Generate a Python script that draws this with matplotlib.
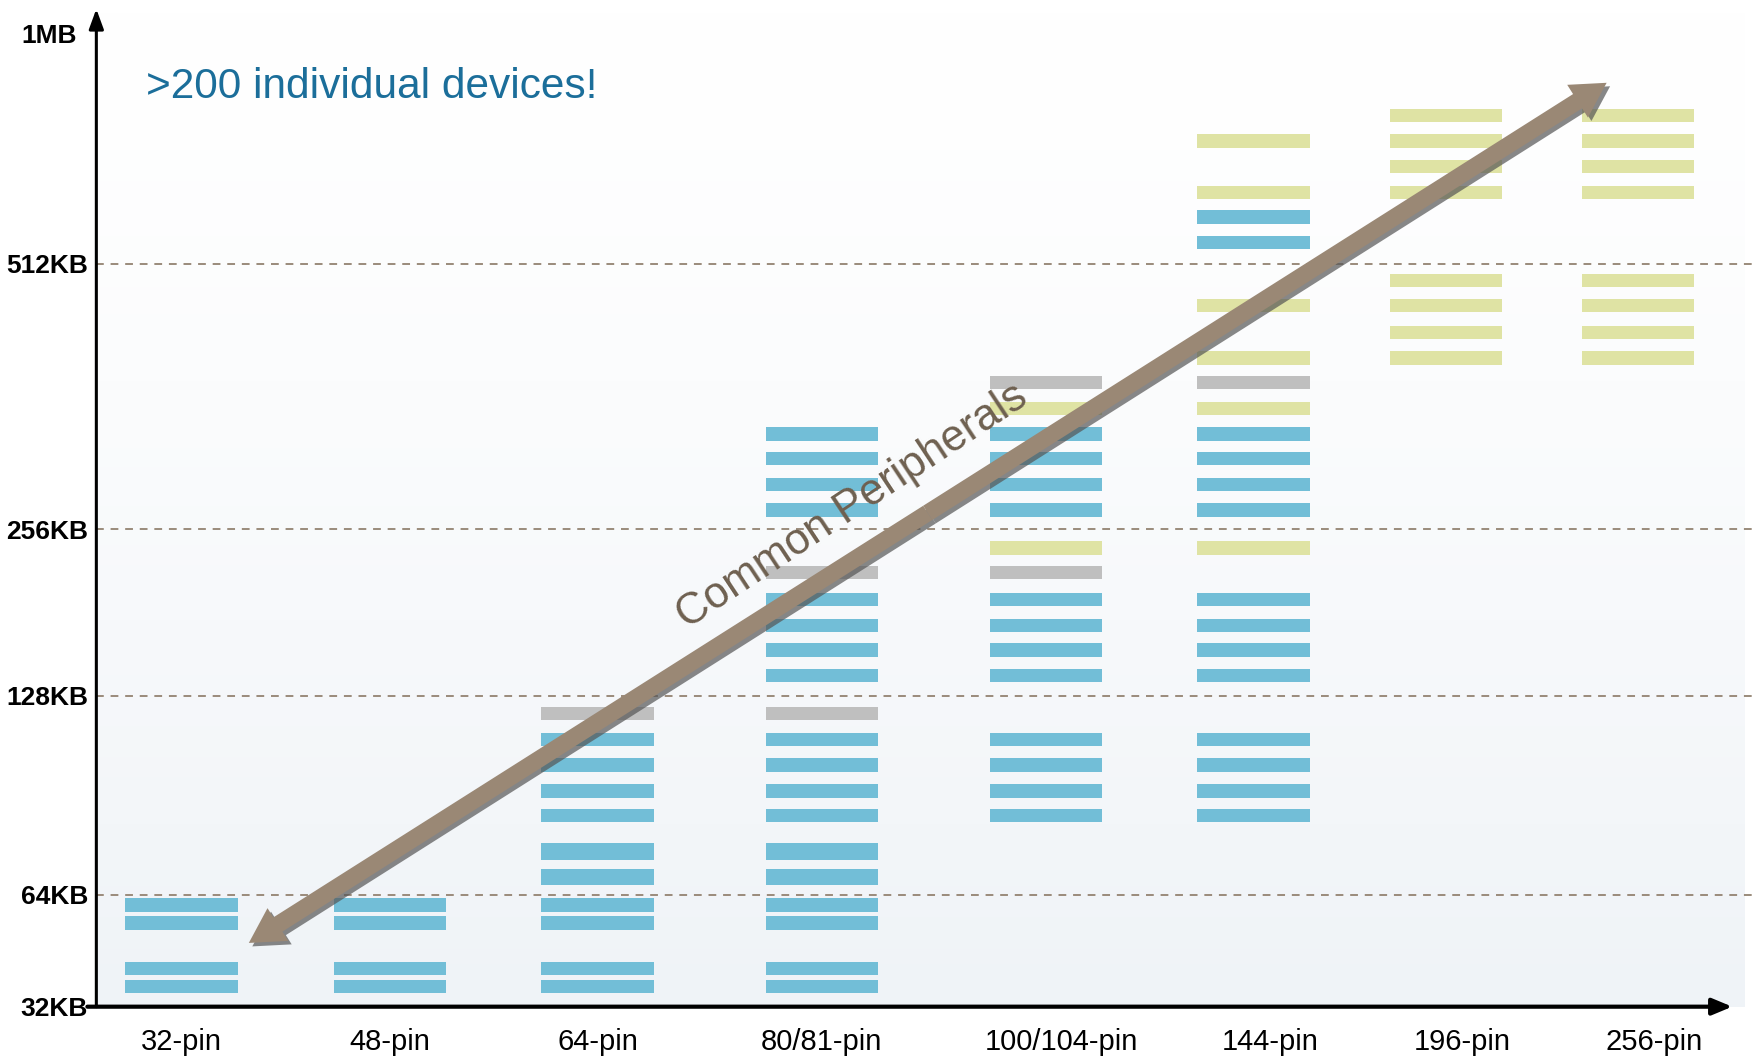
import numpy as np
import matplotlib.pyplot as plt
from matplotlib.patches import FancyArrowPatch
from matplotlib.transforms import ScaledTranslation
import matplotlib.patheffects as pe

plt.rcParams['font.family'] = ['Liberation Sans', 'DejaVu Sans']

# packages along the x axis
packages = ['32-pin', '48-pin', '64-pin', '80/81-pin', '100/104-pin', '144-pin', '196-pin', '256-pin']

# memory levels on the (schematic) y axis
mem_labels = ['32KB', '64KB', '128KB', '256KB', '512KB', '1MB']
mem_levels = [0, 100, 278, 427, 664, 870]

# device rows per package (same schematic units as mem_levels)
blue_rows = [
    [91, 75, 34, 18],
    [91, 75, 34, 18],
    [239, 216, 193, 171, 139, 116, 91, 75, 34, 18],
    [512, 490, 467, 444, 364, 341, 319, 296, 239, 216, 193, 171, 139, 116, 91, 75, 34, 18],
    [512, 490, 467, 444, 364, 341, 319, 296, 239, 216, 193, 171],
    [706, 683, 512, 490, 467, 444, 364, 341, 319, 296, 239, 216, 193, 171],
    [],
    [],
]
yellow_rows = [
    [], [], [], [],
    [535, 410],
    [774, 728, 627, 580, 535, 410],
    [797, 774, 751, 728, 649, 627, 603, 580],
    [797, 774, 751, 728, 649, 627, 603, 580],
]
gray_rows = [
    [], [],
    [262],
    [388, 262],
    [558, 388],
    [558],
    [], [],
]
thick_rows = [139, 116]

# layout
bar_x = [76, 262, 447, 647, 847, 1032, 1204, 1375]
label_x = [76, 262, 447, 647, 861, 1047, 1218, 1389]
bar_w = 100
bar_h = 12

c_blue = '#72BED7'
c_yellow = '#DFE3A4'
c_gray = '#BFBFBF'
c_arrow = '#9A8875'

fig = plt.figure(figsize=(17.58, 10.56), dpi=100)
ax = fig.add_axes([0.0548, 0.0467, 0.9452, 0.9448])
ax.set_xlim(0, 1482)
ax.set_ylim(0, 892)

# background gradient (mostly white at the top, light blue-gray at the bottom)
grad = np.linspace(0, 1, 256).reshape(-1, 1)
top = np.array([1.0, 1.0, 1.0])
bot = np.array([0xEF, 0xF3, 0xF7]) / 255
img = top + (bot - top) * grad[..., None] ** 1.4
ax.imshow(img, extent=[0, 1470, -4, 892], aspect='auto', zorder=0, origin='upper')

# dashed memory boundaries
for lv in mem_levels[1:-1]:
    ax.axhline(lv, color='#9A8B7B', lw=1.4, ls=(0, (4, 3.5)), zorder=1)

# device bars
for rows, col in [(blue_rows, c_blue), (yellow_rows, c_yellow), (gray_rows, c_gray)]:
    for x, ys in zip(bar_x, rows):
        for y in ys:
            h = 15 if (y in thick_rows and col == c_blue) else bar_h
            ax.bar(x, h, width=bar_w, bottom=y - h / 2, color=col, zorder=2, linewidth=0)

# axes with arrow heads
for s in ax.spines.values():
    s.set_visible(False)
ax.annotate('', xy=(0, 1.0), xytext=(0, 0), xycoords='axes fraction',
            arrowprops=dict(arrowstyle='-|>,head_length=0.6,head_width=0.22', lw=2.2, color='black',
                            mutation_scale=20, shrinkA=0, shrinkB=0), zorder=5)
ax.annotate('', xy=(1459, 0), xytext=(-8, 0), xycoords='data',
            arrowprops=dict(arrowstyle='-|>,head_length=0.6,head_width=0.25', lw=3, color='black',
                            mutation_scale=20, shrinkA=0, shrinkB=0),
            annotation_clip=False, zorder=5)

ax.set_xticks(label_x)
ax.set_xticklabels(packages, fontsize=21)
ax.set_yticks(mem_levels)
ax.set_yticklabels(mem_labels, fontsize=19, fontweight='bold')
ax.tick_params(axis='both', length=0)
ax.tick_params(axis='x', pad=15)
ax.tick_params(axis='y', pad=6)
# 1MB sits a little further left, clear of the axis arrow head
lab = ax.get_yticklabels()[-1]
lab.set_transform(lab.get_transform() + ScaledTranslation(-8 / 72, 0, fig.dpi_scale_trans))

# common peripherals double arrow
p0 = (136, 57)
p1 = (1347, 826)
mid = ((p0[0] + p1[0]) / 2, (p0[1] + p1[1]) / 2)
shadow = [pe.SimplePatchShadow(offset=(2.5, -2.5), shadow_rgbFace='#555555', alpha=0.7), pe.Normal()]
for end in (p0, p1):
    arr = FancyArrowPatch(mid, end, arrowstyle='simple,head_length=0.55,head_width=0.62,tail_width=0.27',
                          mutation_scale=45, color=c_arrow, lw=0, zorder=6,
                          shrinkA=0, shrinkB=0)
    arr.set_path_effects(shadow)
    ax.add_patch(arr)

ax.text(674, 447, 'Common Peripherals', rotation=33.5, rotation_mode='anchor',
        ha='center', va='center', fontsize=31.5, color='#6E6050', zorder=7)

ax.text(44, 822, '>200 individual devices!', fontsize=30.5, color='#1B6E9A',
        ha='left', va='center', zorder=7)

fig.savefig('out.png', dpi=100)
